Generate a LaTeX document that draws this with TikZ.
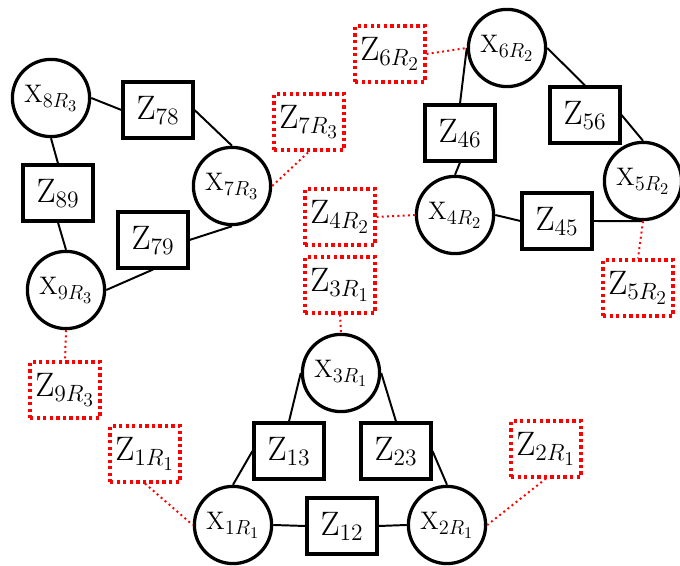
\RequirePackage{fix-cm}
\documentclass[tikz,border=0pt]{standalone}
\usepackage{amsmath}
\usepackage{tikz}
\usetikzlibrary{positioning}
\DeclareMathSizes{15.5}{15.5}{12.5}{10}
\tikzset{
    varnode/.style={circle, draw, line width=2pt, minimum size=1.66cm, inner sep=0pt, font=\fontsize{15.5}{18}\selectfont},
    factorbox/.style={rectangle, draw, line width=2pt, minimum width=1.5cm, minimum height=1.2cm, inner sep=0pt, font=\huge},
    priorbox/.style={factorbox, draw=red, dotted},
    link/.style={line width=1.2pt},
    priorlink/.style={line width=1.2pt, red, dotted},
}

\begin{document}
\begin{tikzpicture}[x=0.0215cm, y=-0.0215cm]
\useasboundingbox (0,0) rectangle (680,566);

% Robot R3
\node[varnode] (x8) at (51,98) {$\mathrm{X}_{8R_3}$};
\node[factorbox] (z78) at (158,110) {$\mathrm{Z}_{78}$};
\node[varnode] (x7) at (232,186) {$\mathrm{X}_{7R_3}$};
\node[factorbox] (z89) at (58,193) {$\mathrm{Z}_{89}$};
\node[factorbox] (z79) at (153,240) {$\mathrm{Z}_{79}$};
\node[varnode] (x9) at (66,290) {$\mathrm{X}_{9R_3}$};
\node[priorbox] (p7) at (309,122) {$\mathrm{Z}_{7R_3}$};
\node[priorbox] (p9) at (65,390) {$\mathrm{Z}_{9R_3}$};

% Robot R2
\node[varnode] (x6) at (507,48) {$\mathrm{X}_{6R_2}$};
\node[factorbox] (z46) at (460,133) {$\mathrm{Z}_{46}$};
\node[factorbox] (z56) at (585,115) {$\mathrm{Z}_{56}$};
\node[varnode] (x4) at (455,215) {$\mathrm{X}_{4R_2}$};
\node[factorbox] (z45) at (557,221) {$\mathrm{Z}_{45}$};
\node[varnode] (x5) at (643,181) {$\mathrm{X}_{5R_2}$};
\node[priorbox] (p6) at (390,54) {$\mathrm{Z}_{6R_2}$};
\node[priorbox] (p4) at (340,217) {$\mathrm{Z}_{4R_2}$};
\node[priorbox] (p5) at (638,288) {$\mathrm{Z}_{5R_2}$};

% Robot R1
\node[priorbox] (p3) at (340,285) {$\mathrm{Z}_{3R_1}$};
\node[varnode] (x3) at (341,373) {$\mathrm{X}_{3R_1}$};
\node[factorbox] (z13) at (289,451) {$\mathrm{Z}_{13}$};
\node[factorbox] (z23) at (396,451) {$\mathrm{Z}_{23}$};
\node[varnode] (x1) at (233,525) {$\mathrm{X}_{1R_1}$};
\node[factorbox] (z12) at (342,526) {$\mathrm{Z}_{12}$};
\node[varnode] (x2) at (447,525) {$\mathrm{X}_{2R_1}$};
\node[priorbox] (p1) at (145,454) {$\mathrm{Z}_{1R_1}$};
\node[priorbox] (p2) at (546,449) {$\mathrm{Z}_{2R_1}$};

% Links R3
\draw[link] (x8.east) -- (z78.west);
\draw[link] (z78.east) -- (x7.north);
\draw[link] (x8.south) -- (z89.north);
\draw[link] (z89.south) -- (x9.north);
\draw[link] (x9.east) -- (z79.south);
\draw[link] (z79.east) -- (x7.south);
\draw[priorlink] (x7.east) -- (p7.south);
\draw[priorlink] (x9.south) -- (p9.north);

% Links R2
\draw[link] (x6.west) -- (z46.north);
\draw[link] (x6.east) -- (z56.north);
\draw[link] (z56.east) -- (x5.north);
\draw[link] (z46.south) -- (x4.north);
\draw[link] (x4.east) -- (z45.west);
\draw[link] (z45.east) -- (x5.south);
\draw[priorlink] (p6.east) -- (x6.west);
\draw[priorlink] (p4.east) -- (x4.west);
\draw[priorlink] (x5.south) -- (p5.north);

% Links R1
\draw[priorlink] (p3.south) -- (x3.north);
\draw[link] (x3.west) -- (z13.north);
\draw[link] (x3.east) -- (z23.north);
\draw[link] (z13.west) -- (x1.north);
\draw[link] (z23.east) -- (x2.north);
\draw[link] (x1.east) -- (z12.west);
\draw[link] (z12.east) -- (x2.west);
\draw[priorlink] (p1.south) -- (x1.west);
\draw[priorlink] (p2.south) -- (x2.east);

\end{tikzpicture}
\end{document}
